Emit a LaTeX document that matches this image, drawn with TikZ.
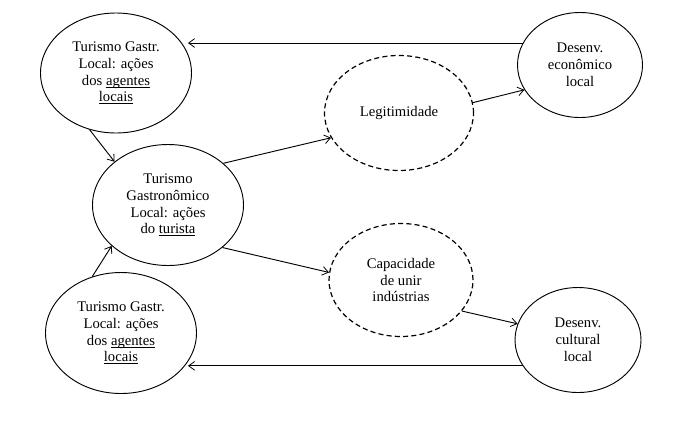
\documentclass[tikz,border=0pt]{standalone}
\usepackage{fontspec}
\setmainfont{Liberation Serif}
\usetikzlibrary{shapes.geometric,arrows.meta}
\newcommand{\myuln}[1]{\setbox0\hbox{#1}\rlap{\rule[-1.6pt]{\wd0}{0.55pt}}\box0}
\tikzset{
  ell/.style={ellipse, draw, line width=0.7pt, inner sep=0pt, align=center,
    font=\fontsize{11pt}{12.6pt}\selectfont},
  dell/.style={ell, dash pattern=on 3.8pt off 2.4pt, line width=0.9pt},
  arr/.style={line width=0.7pt, -{Straight Barb[length=4.5pt,width=6.5pt,line width=0.6pt]}}
}
\begin{document}
\begin{tikzpicture}[x=0.75pt,y=-0.75pt]
\useasboundingbox (0,0) rectangle (691,429);
\fill[white] (0,0) rectangle (691,429);
\node[ell, minimum width=113.25pt, minimum height=90pt] (e1) at (116,73)
  {Turismo Gastr.\\Local: ações\\dos \myuln{agentes}\\\myuln{locais}};
\node[ell, minimum width=113.25pt, minimum height=90.75pt] (e2) at (168,205)
  {Turismo\\Gastronômico\\Local: ações\\do \myuln{turista}};
\node[ell, minimum width=113.25pt, minimum height=90.75pt] (e3) at (121,333)
  {Turismo Gastr.\\Local: ações\\dos \myuln{agentes}\\\myuln{locais}};
\node[ell, minimum width=93.75pt, minimum height=78.75pt] (econ) at (580,65)
  {Desenv.\\econômico\\local};
\node[dell, minimum width=111.75pt, minimum height=86.25pt] (legit) at (399,113)
  {Legitimidade};
\node[dell, minimum width=108pt, minimum height=84.75pt] (capac) at (401,280)
  {Capacidade\\de unir\\indústrias};
\node[ell, minimum width=94.5pt, minimum height=78.75pt] (cult) at (578,340)
  {Desenv.\\cultural\\local};
\draw[arr, shorten >=-3pt] (econ.159) -- (econ.159 -| e1.east);
\draw[arr, shorten >=-6.75pt] (cult.205) -- (cult.205 -| e3.east);
\draw[arr] (e1.245) -- (e2.141);
\draw[arr] (e3.117) -- (e2.216);
\draw[arr] (e2.37) -- (legit.200);
\draw[arr] (e2.-38) -- (capac.174);
\draw[arr] (legit.8) -- (econ.204);
\draw[arr] (capac.-27) -- (cult.165);
\end{tikzpicture}
\end{document}
